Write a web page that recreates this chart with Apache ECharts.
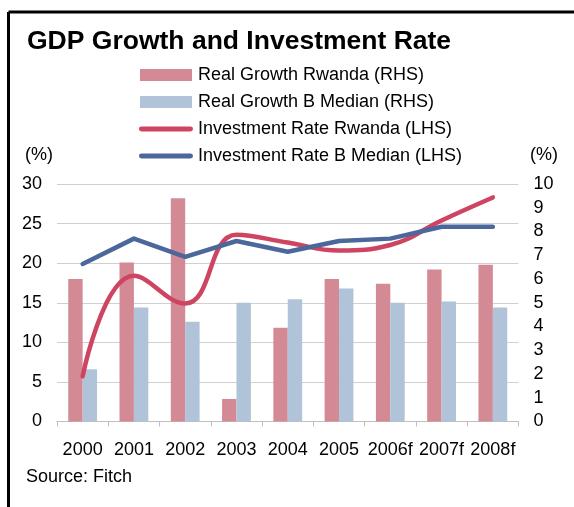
<!DOCTYPE html>
<html>
<head>
<meta charset="utf-8">
<script src="https://cdn.jsdelivr.net/npm/echarts@6/dist/echarts.min.js"></script>
<style>
  html, body { margin: 0; padding: 0; background: #fff; }
  #chart { width: 574px; height: 507px; }
</style>
</head>
<body>
<div id="chart"></div>
<script>
// Years on the category axis
const years = ['2000', '2001', '2002', '2003', '2004', '2005', '2006f', '2007f', '2008f'];

// Real GDP growth, % (right-hand axis)
const growthRwanda = [6.0, 6.7, 9.4, 0.95, 3.95, 6.0, 5.8, 6.4, 6.6];
const growthBMedian = [2.2, 4.8, 4.2, 5.0, 5.15, 5.6, 5.0, 5.05, 4.8];

// Investment rate, % of GDP (left-hand axis)
const investRwanda = [5.7, 18.4, 14.9, 23.6, 22.6, 21.6, 22.3, 25.4, 28.3];
const investBMedian = [19.9, 23.1, 20.8, 22.8, 21.45, 22.8, 23.1, 24.6, 24.6];

// Axis tick settings
const leftTicks = { min: 0, max: 30, interval: 5 };
const rightTicks = { min: 0, max: 10, interval: 1 };

const FONT = '"Liberation Sans", Arial, sans-serif';
// capsule-shaped legend marker for the two line series
const LINE_ICON = 'path://M2.4,0 H49.6 A2.4,2.4 0 0 1 49.6,4.8 H2.4 A2.4,2.4 0 0 1 2.4,0 Z';

const chart = echarts.init(document.getElementById('chart'), null, { renderer: 'canvas' });

chart.setOption({
  animation: false,
  backgroundColor: '#ffffff',
  textStyle: { fontFamily: FONT, color: '#000' },
  title: {
    text: 'GDP Growth and Investment Rate',
    left: 27,
    top: 28,
    padding: 0,
    textStyle: { fontFamily: FONT, fontSize: 26.5, fontWeight: 'bold', color: '#000' }
  },
  legend: {
    orient: 'vertical',
    left: 139,
    top: 66,
    padding: 0,
    itemWidth: 54,
    itemHeight: 12,
    itemGap: 9,
    symbolKeepAspect: true,
    textStyle: { fontFamily: FONT, fontSize: 18, color: '#000' },
    itemTextGap: 5,
    data: [
      { name: 'Real Growth Rwanda (RHS)', icon: 'path://M0,0 H52 V12 H0 Z' },
      { name: 'Real Growth B Median (RHS)', icon: 'path://M0,0 H52 V12 H0 Z' },
      { name: 'Investment Rate Rwanda (LHS)', icon: LINE_ICON },
      { name: 'Investment Rate B Median (LHS)', icon: LINE_ICON }
    ]
  },
  grid: { left: 57, right: 55.5, top: 184, bottom: 85.5, containLabel: false },
  xAxis: {
    type: 'category',
    data: years,
    boundaryGap: true,
    axisLine: { show: true, lineStyle: { color: '#bfbfbf', width: 1 } },
    axisTick: { show: true, length: 5, alignWithLabel: false, lineStyle: { color: '#bfbfbf' } },
    axisLabel: { fontFamily: FONT, fontSize: 18, color: '#000', margin: 19.5, interval: 0 }
  },
  yAxis: [
    {
      type: 'value',
      position: 'left',
      min: leftTicks.min, max: leftTicks.max, interval: leftTicks.interval,
      axisLine: { show: false },
      axisTick: { show: false },
      splitLine: { show: true, lineStyle: { color: '#d0d0d0', width: 1 } },
      axisLabel: { fontFamily: FONT, fontSize: 18, color: '#000', margin: 15 }
    },
    {
      type: 'value',
      position: 'right',
      min: rightTicks.min, max: rightTicks.max, interval: rightTicks.interval,
      axisLine: { show: false },
      axisTick: { show: false },
      splitLine: { show: false },
      axisLabel: { fontFamily: FONT, fontSize: 18, color: '#000', margin: 15 }
    }
  ],
  series: [
    {
      name: 'Real Growth Rwanda (RHS)',
      type: 'bar',
      yAxisIndex: 1,
      data: growthRwanda,
      barWidth: 14.4,
      barGap: '0%',
      itemStyle: { color: '#d48a95' },
      z: 1
    },
    {
      name: 'Real Growth B Median (RHS)',
      type: 'bar',
      yAxisIndex: 1,
      data: growthBMedian,
      barWidth: 14.4,
      barGap: '0%',
      itemStyle: { color: '#b0c3d8' },
      z: 1
    },
    {
      name: 'Investment Rate Rwanda (LHS)',
      type: 'line',
      yAxisIndex: 0,
      data: investRwanda,
      smooth: 0.45,
      symbol: 'none',
      showSymbol: false,
      itemStyle: { color: '#cd4561' },
      lineStyle: { color: '#cd4561', width: 4.5, cap: 'round', join: 'round' },
      z: 3
    },
    {
      name: 'Investment Rate B Median (LHS)',
      type: 'line',
      yAxisIndex: 0,
      data: investBMedian,
      smooth: false,
      symbol: 'none',
      showSymbol: false,
      itemStyle: { color: '#4b679b' },
      lineStyle: { color: '#4b679b', width: 4.5, cap: 'round', join: 'round' },
      z: 4
    }
  ],
  graphic: [
    // outer frame: top and left edges
    { type: 'line', shape: { x1: 8.5, y1: 12, x2: 574, y2: 12 }, style: { stroke: '#000', lineWidth: 3 }, silent: true },
    { type: 'line', shape: { x1: 8.5, y1: 12, x2: 8.5, y2: 507 }, style: { stroke: '#000', lineWidth: 3 }, silent: true },
    // axis unit labels
    { type: 'text', x: 39, y: 155, style: { text: '(%)', font: '18px ' + FONT, fill: '#000', align: 'center', verticalAlign: 'middle' }, silent: true },
    { type: 'text', x: 544, y: 155, style: { text: '(%)', font: '18px ' + FONT, fill: '#000', align: 'center', verticalAlign: 'middle' }, silent: true },
    // source note
    { type: 'text', x: 26, y: 477, style: { text: 'Source: Fitch', font: '18px ' + FONT, fill: '#000', align: 'left', verticalAlign: 'middle' }, silent: true }
  ]
});
</script>
</body>
</html>
